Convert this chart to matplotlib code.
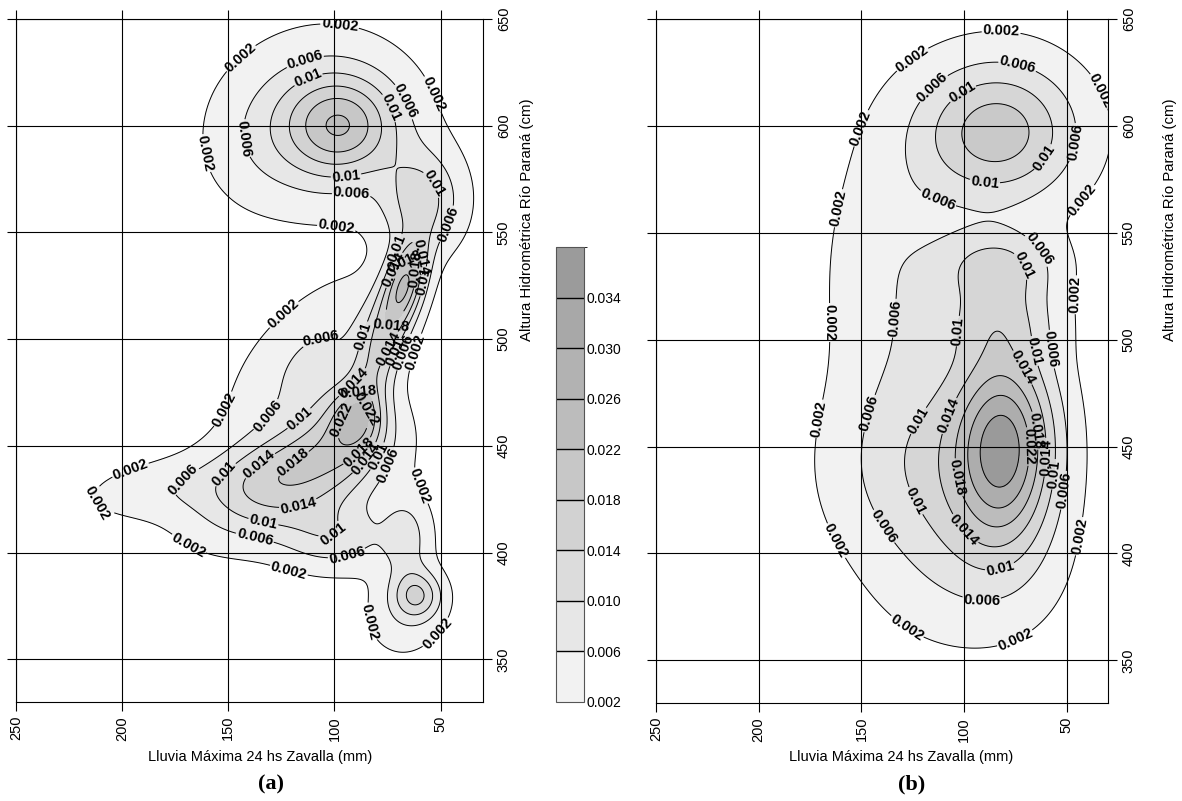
import numpy as np
import matplotlib
matplotlib.use("Agg")
import matplotlib.pyplot as plt
from matplotlib.colors import ListedColormap, BoundaryNorm

plt.rcParams['font.family'] = ['Liberation Sans', 'DejaVu Sans']

# contour levels and grey fills
LEVELS = [0.002, 0.006, 0.010, 0.014, 0.018, 0.022, 0.026, 0.030, 0.034, 0.038]
GREYS = ['#f2f2f2', '#e7e7e7', '#dcdcdc', '#d2d2d2', '#c7c7c7',
         '#bcbcbc', '#b2b2b2', '#a8a8a8', '#9b9b9b']
GREYS_B = ['#f2f2f2', '#e4e4e4', '#d6d6d6', '#c9c9c9', '#bcbcbc',
           '#adadad', '#9a9a9a', '#8f8f8f', '#858585']

X_TICKS = [250, 200, 150, 100, 50]
Y_TICKS = [350, 400, 450, 500, 550, 600, 650]

# bivariate normal components: centre (rain mm, height cm), spreads, correlation, peak
A_CX  = [96,    104,   140,   59,    66,    78,    89,    96,    122,   182,   112,   100,   66,    61,    68]
A_CY  = [600,   601,   590,   565,   527,   498,   463,   456,   435,   430,   492,   407,   407,   380,   370]
A_SX  = [17,    27,    18,    13,    7,     10,    9,     15,    27,    26,    24,    18,    8,     8,     13]
A_SY  = [15,    25,    22,    16,    14,    24,    10,    18,    18,    10,    24,    11,    14,    8,     14]
A_RHO = [0,     0,     0,     0,     -0.4,  -0.6,  0,     0,     -0.4,  -0.3,  -0.6,  0,     0,     0,     0]
A_AMP = [0.012, 0.011, 0.002, 0.011, 0.016, 0.013, 0.010, 0.008, 0.017, 0.004, 0.006, 0.008, 0.007, 0.012, 0.004]

B_CX  = [84,     84,     84,     80,    108,   140,   135,   95]
B_CY  = [597,    535,    510,    450,   440,   440,   530,   390]
B_SX  = [27,     20,     20,     17,    28,    25,    22,    30]
B_SY  = [23,     12,     14,     32,    38,    28,    45,    25]
B_RHO = [0,      0,      0,      0,     0,     0,     0,     0]
B_AMP = [0.0165, 0.0095, 0.007,  0.024, 0.008, 0.003, 0.005, 0.003]

# where each contour value is written (rain mm, height cm)
A_LABEL_AT = {
    0.002: [(98, 644), (145, 633), (55, 614), (156, 588), (99, 556), (124, 512),
            (154, 468), (200, 449), (54, 434), (215, 420), (168, 405), (123, 386),
            (87, 367), (51, 362), (50, 490)],
    0.006: [(114, 631), (68, 611), (134, 595), (92, 564), (40, 551), (108, 510),
            (135, 467), (176, 440), (65, 437), (138, 405), (91, 387), (57, 490)],
    0.010: [(112, 621), (73, 609), (94, 573), (55, 572), (77, 545), (102, 506),
            (123, 470), (155, 440), (71, 441), (134, 412), (93, 396), (62, 490),
            (52, 526)],
    0.014: [(101, 490), (137, 443), (80, 440), (116, 418), (75, 534), (50, 539),
            (66, 491)],
    0.018: [(94, 489), (122, 446), (85, 443), (71, 540), (54, 534), (69, 493)],
    0.022: [(107, 467), (73, 473)],
    0.026: [(99, 469)],
}
B_LABEL_AT = {
    0.002: [(82, 643), (130, 637), (161, 603), (41, 613), (150, 559), (42, 565),
            (45, 521), (155, 508), (172, 463), (156, 409), (122, 374), (75, 360),
            (43, 408)],
    0.006: [(74, 628), (117, 620), (50, 593), (115, 560), (56, 548), (121, 509),
            (53, 496), (138, 463), (130, 418), (91, 386), (55, 430)],
    0.010: [(101, 616), (61, 585), (91, 565), (71, 535), (103, 504), (60, 496),
            (124, 463), (121, 426), (84, 398), (57, 437)],
    0.014: [(71, 487), (111, 466), (94, 416), (59, 445)],
    0.018: [(105, 435), (61, 458)],
    0.022: [(63, 450)],
}


def density(X, Y, cx, cy, sx, sy, rho, amp):
    Z = np.zeros_like(X)
    for x0, y0, a, b, r, h in zip(cx, cy, sx, sy, rho, amp):
        u = (X - x0) / a
        v = (Y - y0) / b
        q = (u * u - 2 * r * u * v + v * v) / (1 - r * r)
        Z += h * np.exp(-0.5 * q)
    return Z


def snap_labels(ax, cs, label_at):
    # move each wanted spot onto the nearest vertex of its own level's line
    to_px = ax.transData.transform
    lev_list = [round(v, 4) for v in cs.levels]
    spots = []
    for lev, pts in label_at.items():
        key = round(lev, 4)
        if key not in lev_list:
            continue
        segs = [s for s in cs.allsegs[lev_list.index(key)] if len(s) > 1]
        if not segs:
            continue
        verts = np.vstack(segs)
        vpx = to_px(verts)
        for p in pts:
            d = np.hypot(*(vpx - to_px(np.array([p], float))).T)
            spots.append(tuple(verts[np.argmin(d)]))
    return spots


xg = np.linspace(20, 260, 481)
yg = np.linspace(320, 660, 681)
X, Y = np.meshgrid(xg, yg)
ZA = density(X, Y, A_CX, A_CY, A_SX, A_SY, A_RHO, A_AMP)
ZB = density(X, Y, B_CX, B_CY, B_SX, B_SY, B_RHO, B_AMP)

fig = plt.figure(figsize=(11.82, 8.01), dpi=100)
ax_a = fig.add_axes([0.01354, 0.1236, 0.3951, 0.8527])
ax_b = fig.add_axes([0.5550, 0.1223, 0.3824, 0.8540])
cax = fig.add_axes([0.4704, 0.1236, 0.0237, 0.5680])


def draw_panel(ax, Z, greys, label_at, letter, cx):
    ax.set_xlim(250, 30)
    ax.set_ylim(330, 650)
    ax.contourf(X, Y, Z, levels=LEVELS, colors=greys)
    cs = ax.contour(X, Y, Z, levels=LEVELS, colors='black', linewidths=0.7)
    spots = snap_labels(ax, cs, label_at)
    with plt.rc_context({'font.weight': 'bold'}):
        cs.clabel(fmt=lambda v: f'{v:g}', fontsize=10.5, inline=True,
                  inline_spacing=1, manual=spots)
    ax.set_xticks(X_TICKS)
    ax.set_yticks(Y_TICKS)
    ax.grid(True, color='black', linewidth=0.8)
    ax.set_axisbelow(False)
    ax.tick_params(direction='out', length=6.5, width=0.8, top=True, bottom=True,
                   left=True, right=True, labelbottom=True, labelleft=False,
                   labelright=True, labelsize=10.5)
    for lab in ax.get_xticklabels():
        lab.set_rotation(90)
    for lab in ax.get_yticklabels():
        lab.set_rotation(90)
        lab.set_va('center')
    for sp in ax.spines.values():
        sp.set_linewidth(0.8)
    fig.text(cx, 0.055, 'Lluvia Máxima 24 hs Zavalla (mm)', ha='center', va='center',
             fontsize=10.5)
    fig.text(cx + 0.009, 0.02, letter, ha='center', va='center', fontsize=16,
             fontweight='bold', family=['Liberation Serif', 'DejaVu Serif'])


draw_panel(ax_a, ZA, GREYS, A_LABEL_AT, '(a)', 0.22)
draw_panel(ax_b, ZB, GREYS_B, B_LABEL_AT, '(b)', 0.762)

fig.text(0.4458, 0.7255, 'Altura Hidrométrica Río Paraná (cm)', rotation=90,
         ha='center', va='center', fontsize=10.8)
fig.text(0.9898, 0.7255, 'Altura Hidrométrica Río Paraná (cm)', rotation=90,
         ha='center', va='center', fontsize=10.8)

# colour key
cmap = ListedColormap(GREYS)
norm = BoundaryNorm(LEVELS, cmap.N)
sm = matplotlib.cm.ScalarMappable(norm=norm, cmap=cmap)
cb = fig.colorbar(sm, cax=cax, ticks=LEVELS[:-1])
cb.ax.set_yticklabels([f'{v:.3f}' for v in LEVELS[:-1]])
cb.ax.tick_params(length=0, labelsize=10, pad=2)
cb.outline.set_edgecolor('#555555')
for v in LEVELS[1:-1]:
    cb.ax.axhline(v, color='black', linewidth=1.0)

fig.savefig('out.png', dpi=100)
